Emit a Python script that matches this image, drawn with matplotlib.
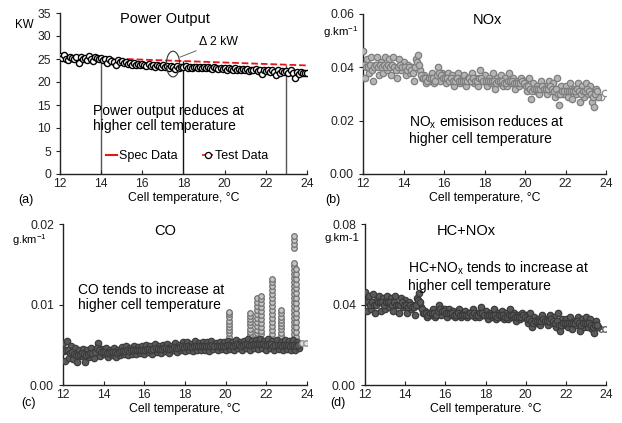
import matplotlib
matplotlib.use("Agg")
import matplotlib.pyplot as plt
from matplotlib.lines import Line2D
from matplotlib.patches import Ellipse

plt.rcParams['font.family'] = ['Liberation Sans', 'DejaVu Sans']
plt.rcParams['mathtext.default'] = 'regular'

# ---------------- data ----------------
temp_power = [12.0, 12.1, 12.2, 12.3, 12.4, 12.5, 12.6, 12.7, 12.8, 12.9,
              13.0, 13.1, 13.2, 13.3, 13.4, 13.5, 13.6, 13.7, 13.8, 13.9,
              14.0, 14.1, 14.2, 14.3, 14.4, 14.5, 14.6, 14.7, 14.8, 14.9,
              15.0, 15.1, 15.2, 15.3, 15.4, 15.5, 15.6, 15.7, 15.8, 15.9,
              16.0, 16.1, 16.2, 16.3, 16.4, 16.5, 16.6, 16.7, 16.8, 16.9,
              17.0, 17.1, 17.2, 17.3, 17.4, 17.5, 17.6, 17.7, 17.8, 17.9,
              18.0, 18.1, 18.2, 18.3, 18.4, 18.5, 18.6, 18.7, 18.8, 18.9,
              19.0, 19.1, 19.2, 19.3, 19.4, 19.5, 19.6, 19.7, 19.8, 19.9,
              20.0, 20.1, 20.2, 20.3, 20.4, 20.5, 20.6, 20.7, 20.8, 20.9,
              21.0, 21.1, 21.2, 21.3, 21.4, 21.5, 21.6, 21.7, 21.8, 21.9,
              22.0, 22.1, 22.2, 22.3, 22.4, 22.5, 22.6, 22.7, 22.8, 22.9,
              23.0, 23.1, 23.2, 23.3, 23.4, 23.5, 23.6, 23.7, 23.8, 23.9,
              24.0]
power_test = [25.6, 25.3, 25.8, 25.1, 24.7, 25.5, 25.2, 24.9, 25.4, 24.2,
              25.5, 25.0, 25.3, 24.8, 25.6, 25.1, 24.6, 25.4, 25.2, 24.9,
              25.3, 24.8, 25.1, 24.2, 24.9, 24.6, 24.4, 23.6, 24.7, 24.3,
              24.5, 24.1, 24.4, 23.9, 24.2, 23.8, 24.1, 23.6, 23.9, 23.7,
              24.0, 23.7, 23.5, 23.9, 23.4, 23.7, 23.3, 23.6, 23.5, 23.2,
              23.6, 23.3, 23.5, 23.1, 23.4, 23.2, 22.9, 23.4, 23.0, 23.3,
              23.2, 23.4, 23.0, 23.3, 23.1, 23.3, 23.2, 23.0, 23.3, 23.1,
              23.2, 23.0, 23.3, 23.1, 22.9, 23.2, 23.0, 22.8, 23.1, 22.9,
              23.0, 22.7, 23.1, 22.8, 22.6, 23.0, 22.7, 22.9, 22.5, 22.8,
              22.7, 22.9, 22.4, 22.7, 22.5, 22.8, 22.3, 22.6, 21.7, 22.5,
              22.4, 22.7, 22.1, 22.6, 22.2, 21.6, 22.5, 22.0, 22.4, 22.1,
              22.3, 22.0, 22.5, 21.9, 20.8, 22.2, 21.8, 22.1, 21.9, 22.0,
              22.0]
spec_temp = [12.0, 24.0]
spec_power = [25.5, 23.6]
vline_temp = [14, 18, 23]
vline_top = [25.2, 24.6, 23.8]

temp_emis = [12.0, 12.1, 12.2, 12.3, 12.4, 12.5, 12.6, 12.7, 12.8, 12.9,
             13.0, 13.1, 13.2, 13.3, 13.4, 13.5, 13.6, 13.7, 13.8, 13.9,
             14.0, 14.1, 14.2, 14.3, 14.4, 14.5, 14.6, 14.7, 14.8, 14.9,
             15.0, 15.1, 15.2, 15.3, 15.4, 15.5, 15.6, 15.7, 15.8, 15.9,
             16.0, 16.1, 16.2, 16.3, 16.4, 16.5, 16.6, 16.7, 16.8, 16.9,
             17.0, 17.1, 17.2, 17.3, 17.4, 17.5, 17.6, 17.7, 17.8, 17.9,
             18.0, 18.1, 18.2, 18.3, 18.4, 18.5, 18.6, 18.7, 18.8, 18.9,
             19.0, 19.1, 19.2, 19.3, 19.4, 19.5, 19.6, 19.7, 19.8, 19.9,
             20.0, 20.1, 20.2, 20.3, 20.4, 20.5, 20.6, 20.7, 20.8, 20.9,
             21.0, 21.1, 21.2, 21.3, 21.4, 21.5, 21.6, 21.7, 21.8, 21.9,
             22.0, 22.1, 22.2, 22.3, 22.4, 22.5, 22.6, 22.7, 22.8, 22.9,
             23.0, 23.1, 23.2, 23.3, 23.4, 23.5, 23.6]
temp_emis_mid = [12.05, 12.15, 12.25, 12.35, 12.45, 12.55, 12.65, 12.75, 12.85, 12.95,
                 13.05, 13.15, 13.25, 13.35, 13.45, 13.55, 13.65, 13.75, 13.85, 13.95,
                 14.05, 14.15, 14.25, 14.35, 14.45, 14.55, 14.65, 14.75, 14.85, 14.95,
                 15.05, 15.15, 15.25, 15.35, 15.45, 15.55, 15.65, 15.75, 15.85, 15.95,
                 16.05, 16.15, 16.25, 16.35, 16.45, 16.55, 16.65, 16.75, 16.85, 16.95,
                 17.05, 17.15, 17.25, 17.35, 17.45, 17.55, 17.65, 17.75, 17.85, 17.95,
                 18.05, 18.15, 18.25, 18.35, 18.45, 18.55, 18.65, 18.75, 18.85, 18.95,
                 19.05, 19.15, 19.25, 19.35, 19.45, 19.55, 19.65, 19.75, 19.85, 19.95,
                 20.05, 20.15, 20.25, 20.35, 20.45, 20.55, 20.65, 20.75, 20.85, 20.95,
                 21.05, 21.15, 21.25, 21.35, 21.45, 21.55, 21.65, 21.75, 21.85, 21.95,
                 22.05, 22.15, 22.25, 22.35, 22.45, 22.55, 22.65, 22.75, 22.85, 22.95,
                 23.05, 23.15, 23.25, 23.35, 23.45, 23.55]
tail_temp = [23.75, 23.95]

nox = [.046, .036, .043, .038, .044, .035, .041, .044, .037, .042,
       .038, .044, .039, .043, .037, .044, .040, .036, .043, .039,
       .042, .037, .041, .038, .040, .035, .043, .0445, .039, .036,
       .037, .034, .036, .035, .038, .034, .036, .040, .035, .038,
       .037, .034, .038, .035, .037, .033, .036, .038, .034, .036,
       .037, .033, .036, .035, .038, .034, .036, .033, .039, .035,
       .037, .033, .036, .034, .038, .032, .036, .034, .037, .033,
       .036, .033, .038, .034, .036, .032, .035, .033, .036, .034,
       .035, .031, .036, .028, .034, .031, .033, .030, .035, .032,
       .033, .030, .035, .031, .034, .029, .036, .026, .033, .030,
       .033, .029, .034, .028, .032, .030, .034, .027, .033, .029,
       .034, .030, .033, .027, .025, .032, .029]
nox_mid = [.041, .040, .040, .041, .039, .040, .041, .040, .041, .040,
           .041, .040, .041, .040, .041, .040, .039, .040, .041, .040,
           .040, .039, .040, .039, .038, .040, .042, .041, .037, .036,
           .036, .035, .036, .036, .036, .035, .037, .038, .037, .036,
           .036, .036, .035, .036, .035, .035, .036, .035, .035, .035,
           .035, .035, .036, .035, .036, .035, .035, .036, .036, .035,
           .035, .035, .035, .035, .035, .034, .035, .035, .035, .034,
           .034, .035, .035, .035, .034, .034, .034, .034, .035, .034,
           .033, .033, .032, .031, .032, .032, .032, .032, .033, .032,
           .032, .032, .033, .032, .031, .032, .030, .030, .031, .031,
           .031, .031, .031, .031, .031, .032, .031, .030, .031, .031,
           .032, .031, .030, .029, .030, .031]
nox_tail = [.029, .0305]

co = [.0052, .0030, .0055, .0034, .0048, .0032, .0046, .0028, .0044, .0036,
      .0045, .0029, .0043, .0035, .0046, .0033, .0044, .0052, .0036, .0045,
      .0038, .0046, .0035, .0044, .0037, .0046, .0035, .0044, .0037, .0047,
      .0038, .0048, .0037, .0046, .0039, .0048, .0038, .0047, .0040, .0049,
      .0039, .0050, .0041, .0048, .0039, .0051, .0041, .0049, .0040, .0050,
      .0042, .0051, .0040, .0049, .0043, .0052, .0041, .0050, .0043, .0053,
      .0042, .0054, .0044, .0051, .0042, .0055, .0044, .0052, .0043, .0054,
      .0044, .0053, .0042, .0055, .0045, .0052, .0043, .0054, .0045, .0053,
      .0044, .0055, .0045, .0053, .0043, .0056, .0046, .0054, .0044, .0055,
      .0046, .0057, .0044, .0055, .0046, .0056, .0045, .0057, .0046, .0055,
      .0044, .0057, .0046, .0055, .0043, .0056, .0045, .0054, .0044, .0056,
      .0045, .0055, .0043, .0056, .0044, .0054, .0046]
co_mid = [.0042, .0043, .0044, .0040, .0041, .0038, .0037, .0037, .0039, .0040,
          .0038, .0037, .0039, .0040, .0040, .0041, .0046, .0044, .0041, .0041,
          .0041, .0040, .0040, .0041, .0041, .0041, .0040, .0041, .0042, .0042,
          .0042, .0043, .0042, .0043, .0043, .0043, .0043, .0044, .0044, .0044,
          .0044, .0045, .0045, .0044, .0045, .0046, .0045, .0045, .0045, .0046,
          .0046, .0045, .0045, .0046, .0047, .0046, .0046, .0047, .0048, .0047,
          .0048, .0049, .0047, .0047, .0049, .0049, .0048, .0048, .0049, .0048,
          .0048, .0048, .0049, .0050, .0049, .0048, .0049, .0049, .0049, .0049,
          .0050, .0050, .0049, .0048, .0050, .0051, .0050, .0049, .0050, .0051,
          .0051, .0050, .0050, .0051, .0051, .0051, .0051, .0051, .0051, .0050,
          .0050, .0051, .0051, .0049, .0050, .0050, .0050, .0049, .0050, .0050,
          .0050, .0049, .0050, .0050, .0049, .0050]
co_tail = [.0052, .0052]

co_spike_temp = [20.15, 21.2, 21.55, 21.75, 22.3, 22.7, 23.35, 23.48]
co_spike_values = [
    [.0056, .0060, .0064, .0068, .0072, .0076, .0080, .0084, .0088, .0091],
    [.0058, .0062, .0066, .0070, .0074, .0078, .0082, .0086, .0090],
    [.0060, .0064, .0068, .0073, .0078, .0083, .0088, .0093, .0098, .0103, .0108],
    [.0063, .0067, .0072, .0077, .0082, .0087, .0092, .0097, .0102, .0107, .0111],
    [.0058, .0063, .0068, .0073, .0078, .0083, .0088, .0093, .0098, .0103,
     .0108, .0113, .0118, .0123, .0128, .0132],
    [.0057, .0061, .0065, .0069, .0073, .0077, .0081, .0085, .0089, .0093],
    [.0058, .0063, .0068, .0073, .0078, .0083, .0088, .0093, .0098, .0103,
     .0108, .0113, .0118, .0123, .0128, .0133, .0138, .0143, .0148, .0152,
     .0170, .0175, .0180, .0185],
    [.0060, .0066, .0072, .0078, .0084, .0090, .0096, .0102, .0108, .0114,
     .0120, .0126, .0132, .0138, .0144],
]

hcnox = [.046, .037, .044, .038, .045, .036, .042, .044, .037, .043,
         .038, .044, .039, .043, .037, .044, .040, .036, .043, .039,
         .042, .036, .041, .038, .040, .035, .043, .0455, .039, .036,
         .037, .034, .036, .035, .038, .034, .036, .040, .035, .038,
         .038, .034, .038, .035, .037, .034, .036, .038, .034, .036,
         .037, .034, .036, .035, .038, .034, .036, .034, .039, .035,
         .037, .033, .036, .034, .038, .033, .036, .034, .037, .033,
         .036, .033, .038, .034, .036, .032, .035, .033, .036, .034,
         .035, .031, .036, .029, .034, .031, .033, .030, .035, .032,
         .033, .030, .035, .031, .034, .029, .036, .027, .033, .030,
         .033, .029, .034, .028, .032, .030, .034, .027, .033, .029,
         .034, .029, .033, .028, .026, .032, .029]
hcnox_mid = [.041, .041, .040, .041, .040, .040, .041, .041, .041, .040,
             .041, .041, .041, .040, .041, .040, .040, .040, .041, .040,
             .040, .039, .040, .039, .039, .040, .042, .041, .038, .036,
             .036, .035, .036, .036, .036, .035, .037, .038, .037, .037,
             .036, .036, .036, .036, .035, .035, .036, .035, .035, .035,
             .035, .035, .036, .035, .036, .035, .035, .036, .036, .035,
             .035, .035, .035, .035, .035, .034, .035, .035, .035, .034,
             .034, .035, .035, .035, .034, .034, .034, .034, .035, .034,
             .033, .033, .032, .031, .032, .032, .032, .032, .033, .032,
             .032, .032, .033, .032, .031, .032, .030, .030, .031, .031,
             .031, .031, .031, .031, .031, .032, .031, .030, .031, .031,
             .031, .031, .030, .029, .030, .030]
hcnox_tail = [.028, .028]

x_ticks = [12, 14, 16, 18, 20, 22, 24]

# ---------------- figure ----------------
fig = plt.figure(figsize=(6.22, 4.23), dpi=100)
W, H = 622, 423


def make_ax(l, r, b, t):
    return fig.add_axes([l / W, 1 - b / H, (r - l) / W, (b - t) / H])


axa = make_ax(60, 307, 174, 13)
axb = make_ax(363, 606, 174, 14)
axc = make_ax(63, 307, 385, 224)
axd = make_ax(365, 606, 385, 224)

for ax in (axa, axb, axc, axd):
    for s in ('top', 'right'):
        ax.spines[s].set_visible(False)
    for s in ('left', 'bottom'):
        ax.spines[s].set_color('#222222')
        ax.spines[s].set_linewidth(1.0)
    ax.set_xlim(12, 24)
    ax.set_xticks(x_ticks)
    ax.tick_params(axis='y', direction='out', length=3, labelsize=8.7, colors='#222222', pad=3.5)
    ax.tick_params(axis='x', direction='in', length=3, labelsize=8.7, colors='#222222', pad=3)
    ax.set_xlabel('Cell temperature, °C', fontsize=8.8, labelpad=1)

msz = 4.4
bsz = 4.6


def band(ax, xs, ys, fc, ec, z=3):
    ax.plot(xs, ys, ls='none', marker='o', ms=bsz, mfc=fc, mec=ec, mew=0.9, zorder=z)


# (a) Power
axa.set_ylim(0, 35)
axa.set_yticks([0, 5, 10, 15, 20, 25, 30, 35])
axa.vlines(vline_temp, 0, vline_top, colors=['#555555', '#111111', '#555555'], lw=1.0, zorder=1)
axa.plot(spec_temp, spec_power, ls='--', color='#e8141c', lw=1.3, zorder=2)
axa.plot(temp_power, power_test, ls='none', marker='o', ms=msz, mfc='white',
         mec='black', mew=1.0, zorder=3)
axa.add_patch(Ellipse((17.49, 23.9), 0.65, 5.6, fill=False, ec='#333333', lw=0.8, zorder=4))
axa.annotate('Δ 2 kW', xy=(17.83, 25.4), xytext=(18.75, 28.7), fontsize=8.8,
             va='center', ha='left',
             arrowprops=dict(arrowstyle='-', color='#666666', lw=0.7, shrinkA=0, shrinkB=0))
axa.text(0.425, 0.963, 'Power Output', transform=axa.transAxes, ha='center', va='center', fontsize=10.5)
axa.text(0.134, 0.344, 'Power output reduces at\nhigher cell temperature', transform=axa.transAxes,
         ha='left', va='center', fontsize=10, linespacing=1.15)
axa.text(-0.146, 0.925, 'KW', transform=axa.transAxes, ha='center', va='center', fontsize=8.3)
handles = [Line2D([], [], color='#e8141c', lw=1.5),
           Line2D([], [], color='#e8141c', ls='--', lw=1.2, marker='o', ms=msz,
                  mfc='white', mec='black', mew=0.9)]
axa.legend(handles, ['Spec Data', 'Test Data'], loc='center', bbox_to_anchor=(0.514, 0.112),
           ncol=2, frameon=False, handlelength=0.9, handletextpad=0.1, columnspacing=2.0,
           fontsize=9, borderpad=0)

# (b) NOx
axb.set_ylim(0, 0.06)
axb.set_yticks([0, 0.02, 0.04, 0.06])
axb.set_yticklabels(['0.00', '0.02', '0.04', '0.06'])
band(axb, temp_emis, nox, '#b5b5b5', '#7e7e7e')
band(axb, temp_emis_mid, nox_mid, '#b5b5b5', '#7e7e7e')
axb.plot(tail_temp, nox_tail, ls='none', marker='o', ms=bsz, mfc='white', mec='#8a8a8a', mew=0.9)
axb.text(0.514, 0.963, 'NOx', transform=axb.transAxes, ha='center', va='center', fontsize=10.5)
axb.text(0.19, 0.277, 'NO$_x$ emisison reduces at\nhigher cell temperature', transform=axb.transAxes,
         ha='left', va='center', fontsize=10, linespacing=1.15)
axb.text(-0.02, 0.885, 'g.km$^{-1}$', transform=axb.transAxes, ha='right', va='center', fontsize=8.2)

# (c) CO
axc.set_ylim(0, 0.02)
axc.set_yticks([0, 0.01, 0.02])
axc.set_yticklabels(['0.00', '0.01', '0.02'])
for t, vals in zip(co_spike_temp, co_spike_values):
    axc.plot([t] * len(vals), vals, ls='none', marker='o', ms=4.0, mfc='#c4c4c4',
             mec='#707070', mew=0.9, zorder=2)
band(axc, temp_emis, co, '#5a5a5a', '#3c3c3c')
band(axc, temp_emis_mid, co_mid, '#5a5a5a', '#3c3c3c')
axc.plot(tail_temp, co_tail, ls='none', marker='o', ms=4.0, mfc='#e0e0e0', mec='#8a8a8a', mew=0.9, zorder=3)
axc.text(0.418, 0.957, 'CO', transform=axc.transAxes, ha='center', va='center', fontsize=10.5)
axc.text(0.061, 0.543, 'CO tends to increase at\nhigher cell temperature', transform=axc.transAxes,
         ha='left', va='center', fontsize=10, linespacing=1.15)
axc.text(-0.066, 0.9, 'g.km$^{-1}$', transform=axc.transAxes, ha='right', va='center', fontsize=8.0)

# (d) HC+NOx
axd.set_ylim(0, 0.08)
axd.set_yticks([0, 0.04, 0.08])
axd.set_yticklabels(['0.00', '0.04', '0.08'])
band(axd, temp_emis, hcnox, '#5a5a5a', '#3a3a3a')
band(axd, temp_emis_mid, hcnox_mid, '#5a5a5a', '#3a3a3a')
axd.plot(tail_temp, hcnox_tail, ls='none', marker='o', ms=4.0, mfc='white', mec='#555555', mew=0.9)
axd.text(0.419, 0.957, 'HC+NOx', transform=axd.transAxes, ha='center', va='center', fontsize=10.5)
axd.text(0.178, 0.677, 'HC+NO$_x$ tends to increase at\nhigher cell temperature', transform=axd.transAxes,
         ha='left', va='center', fontsize=10, linespacing=1.15)
axd.text(-0.025, 0.91, 'g.km-1', transform=axd.transAxes, ha='right', va='center', fontsize=8.2)
axd.set_xlabel('Cell temperature. °C', fontsize=8.8, labelpad=1)

# panel labels
fig.text(26 / W, 1 - 200 / H, '(a)', ha='center', va='center', fontsize=9)
fig.text(333 / W, 1 - 200 / H, '(b)', ha='center', va='center', fontsize=9)
fig.text(28 / W, 1 - 403 / H, '(c)', ha='center', va='center', fontsize=9)
fig.text(338 / W, 1 - 403 / H, '(d)', ha='center', va='center', fontsize=9)

fig.savefig('out.png', dpi=100)
